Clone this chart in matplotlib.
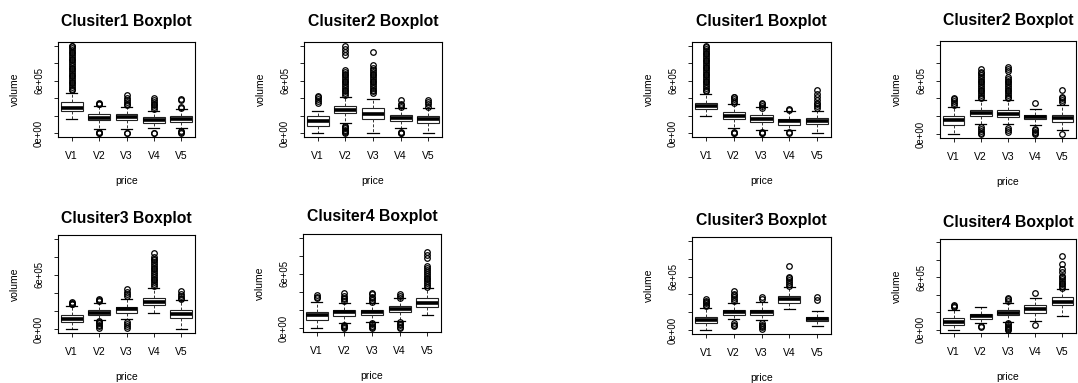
"""Two sets of per-cluster volume-by-price boxplots (R style)."""
import matplotlib
matplotlib.use("Agg")
import matplotlib.pyplot as plt

W, H = 1078, 383
SCALE = 1e5  # all values below are in units of 1e5

CATS = ["V1", "V2", "V3", "V4", "V5"]
TITLES = ["Clusiter1 Boxplot", "Clusiter2 Boxplot",
          "Clusiter3 Boxplot", "Clusiter4 Boxplot"]
YTICKS = [0, 2, 4, 6, 8, 10]
YTICKLABELS = ["0e+00", "", "", "6e+05", "", ""]

# ---- left set ----
L1_Q1 = [2.5, 1.5, 1.55, 1.2, 1.3]
L1_MED = [2.95, 1.8, 1.85, 1.55, 1.65]
L1_Q3 = [3.6, 2.2, 2.2, 1.85, 1.95]
L1_LO = [1.65, 0.5, 0.55, 0.6, 0.6]
L1_HI = [4.6, 3.1, 3.0, 2.6, 2.8]
L1_OUT = [[4.9, 5.1, 5.3, 5.5, 5.7, 5.9, 6.1, 6.3, 6.5, 6.7, 6.9, 7.1, 7.3, 7.5,
           7.7, 7.9, 8.1, 8.3, 8.5, 8.7, 8.9, 9.1, 9.3, 9.5, 9.7, 9.9, 10.0],
          [3.3, 3.4, 3.45, 0.05, 0.1, 0.15],
          [3.2, 3.4, 3.6, 3.8, 4.0, 4.4, 0.05, 0.1],
          [2.8, 3.0, 3.2, 3.4, 3.6, 3.8, 4.0, 0.05, 0.1],
          [2.9, 3.0, 3.8, 3.9, 0.1, 0.2, 0.3]]

L2_Q1 = [0.8, 2.35, 1.65, 1.4, 1.2]
L2_MED = [1.4, 2.7, 2.2, 1.75, 1.65]
L2_Q3 = [1.95, 3.15, 2.9, 2.05, 2.0]
L2_LO = [0.0, 1.2, 0.0, 0.6, 0.0]
L2_HI = [2.6, 4.2, 3.9, 2.9, 2.9]
L2_OUT = [[3.5, 3.7, 3.9, 4.1, 4.3],
          [4.4, 4.6, 4.8, 5.0, 5.2, 5.4, 5.6, 5.8, 6.0, 6.2, 6.4, 6.6, 6.8, 7.0,
           7.2, 8.9, 9.3, 9.6, 10.0, 0.0, 0.15, 0.3, 0.45, 0.6, 0.75, 0.9],
          [4.6, 4.8, 5.0, 5.2, 5.4, 5.6, 5.8, 6.0, 6.2, 6.4, 6.6, 6.8, 7.0, 7.2,
           7.4, 7.8, 9.3],
          [3.0, 3.2, 3.4, 3.8, 0.05, 0.1, 0.2],
          [3.0, 3.3, 3.6, 3.8]]

L3_Q1 = [0.8, 1.55, 1.75, 2.65, 1.3]
L3_MED = [1.15, 1.85, 2.2, 3.0, 1.7]
L3_Q3 = [1.55, 2.1, 2.5, 3.45, 2.15]
L3_LO = [0.0, 1.0, 1.1, 1.75, 0.0]
L3_HI = [2.6, 2.95, 3.3, 4.6, 3.2]
L3_OUT = [[2.75, 2.85, 2.95, 3.05],
          [3.1, 3.2, 3.35, 0.2, 0.35, 0.5, 0.65, 0.8, 0.9],
          [3.7, 3.9, 4.1, 4.5, 0.2, 0.4, 0.6, 0.8],
          [4.8, 5.0, 5.2, 5.4, 5.6, 5.8, 6.0, 6.2, 6.4, 6.6, 6.8, 7.0, 7.2, 7.4,
           7.6, 7.8, 8.0, 8.4],
          [3.3, 3.5, 3.7, 3.9, 4.2]]

L4_Q1 = [0.95, 1.4, 1.5, 1.8, 2.35]
L4_MED = [1.45, 1.75, 1.8, 2.15, 2.75]
L4_Q3 = [1.8, 2.05, 2.0, 2.45, 3.3]
L4_LO = [0.0, 0.6, 0.75, 0.8, 1.45]
L4_HI = [2.9, 2.8, 2.75, 3.3, 4.4]
L4_OUT = [[3.3, 3.5, 3.7],
          [3.0, 3.2, 3.4, 3.6, 3.85, 0.05, 0.15, 0.3, 0.4],
          [2.9, 3.1, 3.3, 3.5, 3.75, 3.85, 0.05, 0.15, 0.3, 0.45, 0.6],
          [3.4, 3.6, 3.8, 0.05, 0.2, 0.35, 0.5, 0.65],
          [4.6, 4.8, 5.0, 5.2, 5.4, 5.6, 5.8, 6.0, 6.2, 6.4, 6.6, 6.9, 7.8, 8.1, 8.4]]

# ---- right set ----
R1_Q1 = [2.75, 1.6, 1.35, 1.0, 1.05]
R1_MED = [3.1, 2.0, 1.7, 1.4, 1.4]
R1_Q3 = [3.5, 2.4, 2.1, 1.7, 1.75]
R1_LO = [2.0, 0.6, 0.4, 0.35, 0.0]
R1_HI = [4.5, 3.4, 3.0, 2.5, 2.6]
R1_OUT = [[4.8, 5.0, 5.2, 5.4, 5.6, 5.8, 6.0, 6.2, 6.4, 6.6, 6.8, 7.0, 7.2, 7.4,
           7.6, 7.8, 8.0, 8.2, 8.4, 8.6, 8.8, 9.0, 9.2, 9.4, 9.6, 9.8, 10.0],
          [3.5, 3.7, 3.9, 4.1, 4.2, 0.0, 0.1, 0.2],
          [2.9, 3.1, 3.3, 3.5, 0.0, 0.1, 0.2],
          [2.7, 2.8, 0.05, 0.15],
          [2.9, 3.1, 3.3, 3.5, 3.8, 4.2, 4.5, 5.0]]

R2_Q1 = [1.05, 2.0, 1.95, 1.7, 1.4]
R2_MED = [1.6, 2.35, 2.3, 1.95, 1.85]
R2_Q3 = [2.05, 2.7, 2.75, 2.15, 2.2]
R2_LO = [0.0, 1.2, 1.2, 1.1, 0.5]
R2_HI = [3.1, 3.8, 3.8, 2.8, 3.3]
R2_OUT = [[3.3, 3.5, 3.7, 3.9, 4.0],
          [4.0, 4.2, 4.4, 4.6, 4.8, 5.0, 5.2, 5.4, 5.6, 5.8, 6.0, 6.2, 6.4, 6.6,
           6.8, 7.0, 7.3, 0.0, 0.2, 0.4, 0.6, 0.8],
          [4.0, 4.2, 4.4, 4.6, 4.8, 5.0, 5.2, 5.4, 5.6, 5.8, 6.0, 6.2, 6.4, 7.1,
           7.3, 7.5, 0.3, 0.5, 0.7],
          [3.5, 0.0, 0.15, 0.3, 0.45, 0.6],
          [3.6, 3.8, 4.0, 4.2, 5.0, 0.0]]

R3_Q1 = [0.8, 1.75, 1.7, 3.0, 1.05]
R3_MED = [1.15, 2.0, 2.05, 3.45, 1.25]
R3_Q3 = [1.5, 2.25, 2.3, 3.85, 1.5]
R3_LO = [0.1, 1.3, 1.15, 2.4, 0.5]
R3_HI = [2.5, 3.0, 3.2, 4.8, 2.2]
R3_OUT = [[2.7, 2.85, 3.0, 3.15, 3.3, 3.5],
          [3.3, 3.5, 3.7, 3.9, 4.1, 4.4, 0.5, 0.65, 0.8],
          [3.55, 3.7, 0.2, 0.35, 0.5, 0.65, 0.8],
          [5.0, 5.2, 5.4, 5.6, 5.8, 6.0, 7.2],
          [3.4, 3.7]]

R4_Q1 = [0.5, 1.22, 1.67, 1.93, 2.78]
R4_MED = [0.85, 1.55, 1.95, 2.35, 3.15]
R4_Q3 = [1.3, 1.78, 2.22, 2.78, 3.7]
R4_LO = [0.0, 0.75, 0.9, 1.0, 1.55]
R4_HI = [2.3, 2.6, 3.0, 3.6, 4.6]
R4_OUT = [[2.6, 2.7, 2.8],
          [0.3, 0.4],
          [3.3, 3.45, 3.6, 0.0, 0.1, 0.2, 0.3, 0.45, 0.6, 0.75],
          [4.15, 0.55],
          [4.8, 5.0, 5.2, 5.4, 5.6, 5.8, 6.0, 6.2, 6.6, 7.0, 7.5, 8.5]]

PANELS = [
  (L1_Q1, L1_MED, L1_Q3, L1_LO, L1_HI, L1_OUT),
  (L2_Q1, L2_MED, L2_Q3, L2_LO, L2_HI, L2_OUT),
  (L3_Q1, L3_MED, L3_Q3, L3_LO, L3_HI, L3_OUT),
  (L4_Q1, L4_MED, L4_Q3, L4_LO, L4_HI, L4_OUT),
  (R1_Q1, R1_MED, R1_Q3, R1_LO, R1_HI, R1_OUT),
  (R2_Q1, R2_MED, R2_Q3, R2_LO, R2_HI, R2_OUT),
  (R3_Q1, R3_MED, R3_Q3, R3_LO, R3_HI, R3_OUT),
  (R4_Q1, R4_MED, R4_Q3, R4_LO, R4_HI, R4_OUT),
]

# axes boxes in pixels: left, top, right, bottom
BOXES = [(58, 42, 195, 137), (304, 42, 442, 137),
         (58, 235, 195, 333), (303, 234, 441, 332),
         (692, 42, 831, 137), (940, 41, 1076, 138),
         (692, 237, 831, 334), (940, 239, 1076, 333)]

plt.rcParams["font.family"] = ["Liberation Sans", "DejaVu Sans"]
fig = plt.figure(figsize=(W / 100, H / 100), dpi=100)

for i, ((q1, med, q3, lo, hi, out), (l, t, r, b)) in enumerate(zip(PANELS, BOXES)):
  ax = fig.add_axes([l / W, 1 - b / H, (r - l) / W, (b - t) / H])
  stats = []
  for k in range(len(CATS)):
    stats.append(dict(q1=q1[k] * SCALE, med=med[k] * SCALE, q3=q3[k] * SCALE,
                      whislo=lo[k] * SCALE, whishi=hi[k] * SCALE,
                      fliers=[v * SCALE for v in out[k]]))
  ax.bxp(stats, positions=range(1, 6), widths=0.8, patch_artist=True,
         capwidths=0.4,
         boxprops=dict(facecolor="white", edgecolor="#222222", linewidth=0.8),
         medianprops=dict(color="black", linewidth=2.6),
         whiskerprops=dict(color="#333333", linewidth=0.7, linestyle=(0, (3, 2))),
         capprops=dict(color="black", linewidth=0.9),
         flierprops=dict(marker="o", markerfacecolor="none",
                         markeredgecolor="black", markersize=4,
                         markeredgewidth=0.9))
  ax.set_xlim(0.5, 5.5)
  ax.set_ylim(-0.4 * SCALE, 10.4 * SCALE)
  ax.set_xticks(range(1, 6))
  ax.set_xticklabels(CATS, fontsize=7.5)
  ax.set_yticks([v * SCALE for v in YTICKS])
  ax.set_yticklabels(YTICKLABELS, fontsize=6.9, rotation=90, va="center")
  ax.tick_params(length=3, width=0.6, direction="out")
  ax.tick_params(axis="x", pad=7)
  ax.tick_params(axis="y", pad=7)
  for s in ax.spines.values():
    s.set_linewidth(0.8)
  ax.set_xlabel("price", fontsize=7.5, labelpad=11)
  ax.set_ylabel("volume", fontsize=7.5, labelpad=10)
  pad = 11.5 if i % 4 < 2 else 9
  ax.set_title(TITLES[i % 4], fontsize=11.3, fontweight="bold", pad=pad)

fig.savefig("out.png", dpi=100)
